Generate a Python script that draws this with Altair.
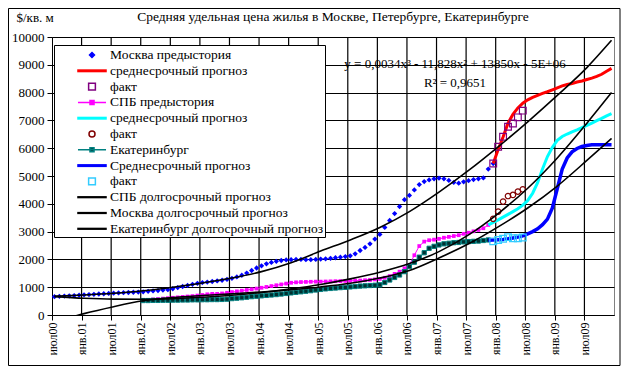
import altair as alt
import pandas as pd

FONT = "Liberation Serif, Times New Roman, Times, DejaVu Serif, serif"

title_text = "Средняя удельная цена жилья в Москве, Петербурге, Екатеринбурге"
y_title = "$/кв. м"
eq_line1 = "y = 0,0034x³ - 11,828x² + 13850x - 5E+06"
eq_line2 = "R² = 0,9651"

x_labels = ["июл00", "янв.01", "июл01", "янв.02", "июл02", "янв.03", "июл03", "янв.04",
            "июл04", "янв.05", "июл05", "янв.06", "июл06", "янв.07", "июл07", "янв.08",
            "июл08", "янв.09", "июл09"]
N_MONTHS = 114  # Jul 2000 .. Dec 2009, monthly categories

# Moscow history, months 0..89
mos_hist = [660, 670, 680, 690, 700, 712,
            725, 735, 745, 755, 765, 775,
            785, 795, 803, 810, 818, 826,
            835, 850, 865, 880, 895, 912,
            945, 985, 1025, 1065, 1105, 1140,
            1165, 1185, 1205, 1225, 1250, 1280,
            1320, 1370, 1430, 1510, 1600, 1690,
            1770, 1840, 1890, 1930, 1960, 1980,
            1990, 2000, 2000, 1990, 1990, 2000,
            2010, 2020, 2040, 2060, 2080, 2100,
            2130, 2200, 2320, 2430, 2560, 2730,
            2900, 3150, 3400, 3650, 3900, 4150,
            4300, 4500, 4690, 4800, 4860, 4900,
            4920, 4900, 4840, 4770, 4740, 4790,
            4830, 4870, 4900, 4930, 5250, 5450]
MOS_HIST_START = 0
mos_mid = [5450, 5950, 6400, 6900, 7220, 7450, 7620, 7740, 7830, 7900, 7970, 8030, 8100,
           8170, 8240, 8290, 8330, 8380, 8420, 8470, 8520, 8580, 8660, 8770, 8870]
MOS_MID_START = 89
mos_fact = [5450, 6050, 6410, 6770, 6890, 7110, 7350]
FACT_START = 89

spb_hist = [530, 545, 560, 575, 590, 605, 620, 635, 650, 665, 680, 700,
            720, 745, 760, 760, 775, 800, 825, 850, 875, 900, 925, 950,
            980, 1010, 1040, 1070, 1100, 1130, 1160, 1175, 1185, 1190, 1195, 1200,
            1200, 1205, 1210, 1215, 1220, 1225, 1230, 1235, 1240, 1250,
            1260, 1280, 1300, 1340, 1400, 1480, 1560, 1680, 1800, 2150, 2480, 2640,
            2690, 2710, 2740, 2780, 2810, 2840, 2870, 2920, 2960, 3010, 3060, 3120, 3240]
HIST_START = 18
spb_mid = [3240, 3330, 3420, 3520, 3620, 3720, 3820, 3950, 4120, 4380, 4760, 5250, 5700,
           6030, 6280, 6420, 6510, 6590, 6660, 6740, 6820, 6900, 6990, 7070, 7160, 7240]
MID_START = 88
spb_fact = [3460, 3720, 4080, 4280, 4320, 4440, 4520]

ekb_hist = [520, 520, 525, 525, 530, 530, 535, 535, 540, 540, 545, 545,
            550, 550, 555, 555, 560, 570, 590, 605, 620, 640, 660, 675,
            690, 705, 720, 735, 755, 775, 795, 815, 835, 855, 875, 900,
            920, 940, 955, 970, 985, 995, 1010, 1025, 1040, 1050,
            1060, 1070, 1085, 1170, 1260, 1350, 1440, 1560, 1740, 1900, 2080, 2240,
            2400, 2470, 2520, 2560, 2580, 2600, 2610, 2630, 2640, 2650, 2660, 2680, 2700]
ekb_mid = [2690, 2700, 2710, 2720, 2740, 2770, 2800, 2850, 2920, 3000, 3100, 3250, 3450,
           3850, 4550, 5250, 5650, 5870, 5990, 6060, 6100, 6120, 6120, 6120, 6120, 6120]
ekb_fact = [2650, 2700, 2740, 2800, 2760, 2760, 2790]

long_idx = [0, 6, 12, 18, 24, 30, 36, 42, 48, 54, 60, 66, 72, 78, 84, 90, 96, 102, 108, 113]
spb_long = [660, 600, 570, 565, 590, 640, 710, 810, 940, 1100, 1300, 1540, 1850, 2280,
            2880, 3650, 4560, 5650, 6900, 8000]
mos_long = [680, 720, 780, 870, 1000, 1150, 1330, 1560, 1880, 2300, 2700, 3150, 3720,
            4420, 5200, 6050, 6950, 7900, 8900, 9880]
ekb_long = [-260, 50, 300, 510, 630, 700, 760, 830, 910, 1010, 1140, 1330, 1600, 2050,
            2560, 3170, 3850, 4640, 5560, 6350]

grid_months = list(range(6, N_MONTHS, 6))

NB = "\u00a0"
legend_keys = ["Москва предыстория", "среднесрочный прогноз", "факт",
               "СПБ предыстория", "среднесрочный прогноз ", "факт ",
               "Екатеринбург", "Среднесрочный прогноз", "факт  ",
               "СПБ долгосрочный прогноз", "Москва долгосрочный прогноз",
               "Екатеринбург долгосрочный прогноз" + NB * 5]


def series(values, start):
    return pd.DataFrame({"m": [start + k + 0.5 for k in range(len(values))], "v": values})


def knots(idx, values):
    return pd.DataFrame({"m": [i + 0.5 for i in idx], "v": values})


label_expr = "[" + ",".join("'%s'" % s for s in x_labels) + "][round(datum.value / 6)]"

x_axis = alt.Axis(values=list(range(0, 6 * len(x_labels), 6)), labelExpr=label_expr, title=None,
                  grid=False,
                  labelAngle=270, labelFont=FONT, labelFontSize=12, labelColor="black",
                  tickColor="black", domainColor="black", labelFlush=False,
                  labelOverlap=False, labelPadding=2, tickSize=5)
y_axis = alt.Axis(values=list(range(0, 10001, 1000)), format="d", title=y_title,
                  titleAngle=0, titleAlign="left", titleBaseline="middle",
                  titleX=-36, titleY=-20, titleFont=FONT, titleFontSize=13,
                  titleFontWeight="normal", titleColor="black",
                  grid=True, gridColor="black", gridOpacity=1, gridWidth=1,
                  labelFont=FONT, labelFontSize=13, labelColor="black",
                  tickColor="black", domainColor="black", labelFlush=False,
                  tickSize=5, labelPadding=3)

X = alt.X("m:Q", scale=alt.Scale(domain=[0, N_MONTHS], nice=False, zero=False), axis=x_axis)
Y = alt.Y("v:Q", scale=alt.Scale(domain=[0, 10000], nice=False), axis=y_axis)


def base(df):
    return alt.Chart(df).encode(x=X, y=Y)


vgrid = alt.Chart(pd.DataFrame({"m": grid_months})).mark_rule(
    color="#000000", strokeWidth=1.2, opacity=1).encode(
    x=alt.X("m:Q", axis=x_axis), y=alt.value(0), y2=alt.value(278))

layers = [
    vgrid,
    base(series(mos_hist, MOS_HIST_START)).mark_point(shape="diamond", filled=True, size=28,
                                                       color="#0000FF", opacity=1),
    base(series(mos_mid, MOS_MID_START)).mark_line(color="#FF0000", strokeWidth=3),
    base(series(mos_fact, FACT_START)).mark_point(shape="square", filled=False, size=45,
                                                  color="#800080", strokeWidth=1.2, opacity=1),
    base(series(spb_hist, HIST_START)).mark_line(color="#FF00FF", strokeWidth=1),
    base(series(spb_hist, HIST_START)).mark_point(shape="square", filled=True, size=14,
                                                  color="#FF00FF", opacity=1),
    base(series(spb_mid, MID_START)).mark_line(color="#00FFFF", strokeWidth=3),
    base(series(spb_fact, FACT_START)).mark_point(shape="circle", filled=False, size=30,
                                                  color="#800000", strokeWidth=1.2, opacity=1),
    base(series(ekb_hist, HIST_START)).mark_line(color="#008080", strokeWidth=1),
    base(series(ekb_hist, HIST_START)).mark_point(shape="square", filled=True, size=18,
                                                  fill="#003030", stroke="#008080",
                                                  strokeWidth=1, opacity=1),
    base(series(ekb_mid, MID_START)).mark_line(color="#0000FF", strokeWidth=3.5),
    base(series(ekb_fact, FACT_START)).mark_point(shape="square", filled=False, size=45,
                                                  color="#33CCFF", strokeWidth=1.2, opacity=1),
    base(knots(long_idx, spb_long)).mark_line(color="black", strokeWidth=1.6,
                                              interpolate="monotone", clip=True),
    base(knots(long_idx, mos_long)).mark_line(color="black", strokeWidth=1.6,
                                              interpolate="monotone", clip=True),
    base(knots(long_idx, ekb_long)).mark_line(color="black", strokeWidth=1.6,
                                              interpolate="monotone", clip=True),
]

# legend symbols (unit = 7.5 px with symbolSize 225)
thick = "M-1.87,-0.1H1.87V0.1H-1.87Z"
blk = "M-1.87,-0.05H1.87V0.05H-1.87Z"
diamond = "M0,-0.33L0.33,0L0,0.33L-0.33,0Z"
hsq = "M-0.45,-0.45H0.45V0.45H-0.45Z"
circ = "M0.4,0A0.4,0.4,0,1,1,-0.4,0A0.4,0.4,0,1,1,0.4,0Z"
line_sq = "M-1.87,0H1.87M-0.27,-0.27H0.27V0.27H-0.27Z"
leg_shapes = [diamond, thick, hsq, line_sq, thick, circ, line_sq, thick, hsq, blk, blk, blk]
leg_fills = ["#0000FF", "#FF0000", "transparent", "#FF00FF", "#00FFFF", "transparent",
             "#003030", "#0000FF", "transparent", "#000000", "#000000", "#000000"]
leg_strokes = ["#0000FF", "#FF0000", "#800080", "#FF00FF", "#00FFFF", "#800000",
               "#008080", "#0000FF", "#33CCFF", "#000000", "#000000", "#000000"]

leg = alt.Legend(title=None, orient="none", legendX=2, legendY=8, fillColor="white",
                 strokeColor="black", padding=1.5, symbolOffset=28, labelOffset=9.5,
                 labelFont=FONT, labelFontSize=13.5, labelColor="black", symbolSize=225,
                 symbolStrokeWidth=1.5, rowPadding=0.8, labelLimit=400, symbolOpacity=1)

legend_layer = alt.Chart(pd.DataFrame({"s": legend_keys})).mark_point(
    filled=True, opacity=1, clip=True).encode(
    x=alt.value(-2000), y=alt.value(-2000),
    fill=alt.Fill("s:N", scale=alt.Scale(domain=legend_keys, range=leg_fills), legend=leg),
    stroke=alt.Stroke("s:N", scale=alt.Scale(domain=legend_keys, range=leg_strokes), legend=leg),
    shape=alt.Shape("s:N", scale=alt.Scale(domain=legend_keys, range=leg_shapes), legend=leg),
)


def label(text, x, y, size=13):
    return alt.Chart(pd.DataFrame({"t": [text]})).mark_text(
        font=FONT, fontSize=size, color="black", align="center", baseline="middle").encode(
        text="t:N", x=alt.value(x), y=alt.value(y))


frame = alt.Chart(pd.DataFrame({"a": [0]})).mark_rect(
    fill="transparent", stroke="black", strokeWidth=1).encode(
    x=alt.value(-43.5), x2=alt.value(568), y=alt.value(-28.5), y2=alt.value(328.5))

chart = alt.layer(*layers, legend_layer,
                  label(eq_line1, 403, 27), label(eq_line2, 403, 46),
                  label(title_text, 281, -20, 13.5), frame).properties(
    width=562, height=278,
    padding={"left": 44, "top": 29, "right": 7, "bottom": 52},
    autosize=alt.AutoSizeParams(type="none"),
    background="white",
).configure_view(stroke="#808080", strokeWidth=1)

chart.save("out.html", embed_options={"renderer": "svg", "actions": False})
